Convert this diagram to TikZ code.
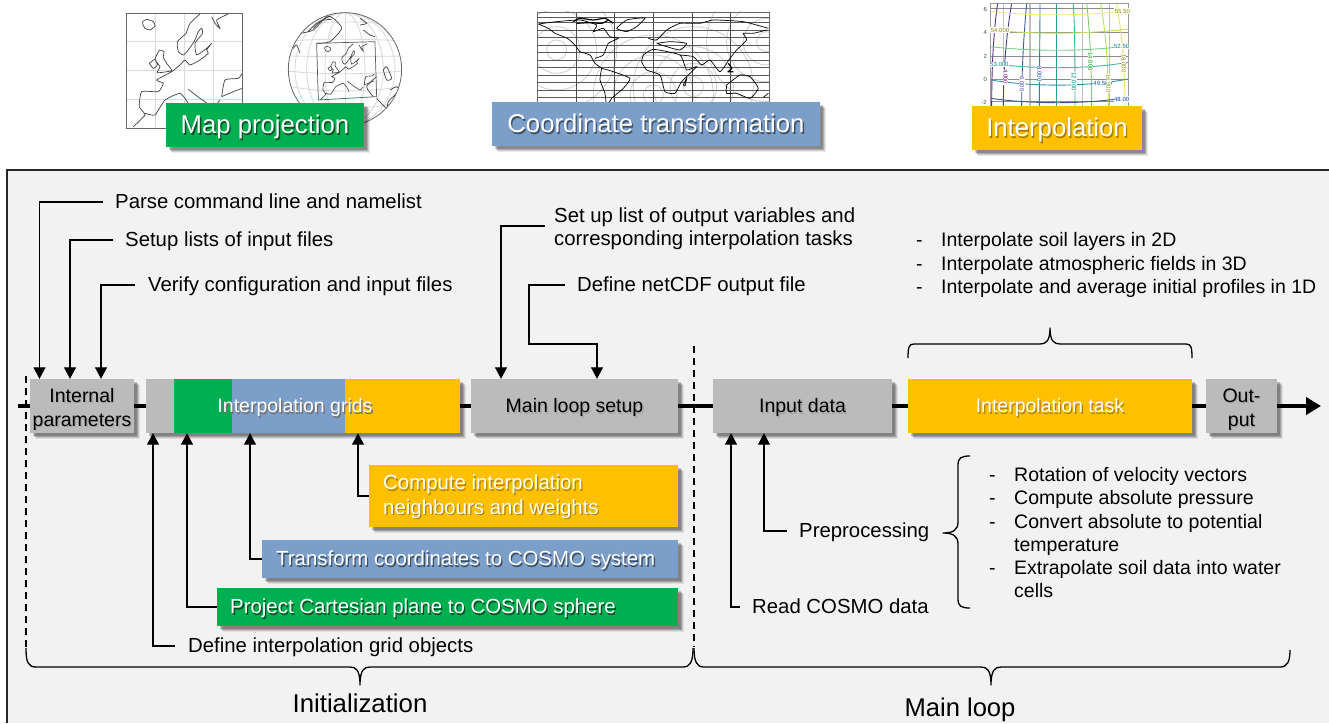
\documentclass[tikz,border=0pt]{standalone}
\usepackage{fontspec}
\setmainfont{Liberation Sans}
\usetikzlibrary{arrows.meta,shadows}
\definecolor{cgreen}{HTML}{00B050}
\definecolor{cblue}{HTML}{7C9FCA}
\definecolor{cyellow}{HTML}{FFC000}
\definecolor{cgray}{HTML}{BBBBBB}
\definecolor{panel}{HTML}{F2F2F2}
\newcommand\shtext[2]{\makebox[0pt][l]{\raisebox{-1.3pt}{\kern1.3pt\textcolor{#1}{#2}}}#2}
\newcommand\eurocoast[1]{
 \draw[#1] plot[smooth,tension=.3] coordinates {(128,65)(140,58)(160,65)(165,78)(150,90)(135,85)(128,72)(128,65)}
 plot[smooth,tension=.3] coordinates {(178,150)(192,155)(190,172)(200,190)(215,212)(172,218)(180,200)(165,178)(178,150)}
 plot[smooth,tension=.3] coordinates {(148,190)(165,178)(172,195)(160,205)(148,190)}
 plot[smooth,tension=.3] coordinates {(300,42)(270,70)(258,100)(232,125)(235,155)(250,165)(265,150)(285,120)(295,95)(305,85)(308,100)(285,130)(290,165)(320,145)(335,130)(320,150)(325,160)(300,180)(270,195)(255,180)(240,195)(215,215)(170,240)(190,250)(175,275)(125,275)(118,320)(135,345)(100,380)}
 plot[smooth,tension=.3] coordinates {(135,340)(165,345)(195,300)(240,280)(262,305)(275,330)}
 plot[smooth,tension=.3] coordinates {(265,268)(300,295)(340,320)(360,300)}
 plot[smooth,tension=.3] coordinates {(365,290)(375,240)(415,235)(425,222)}
 plot[smooth,tension=.3] coordinates {(365,290)(400,275)(427,265)}
 plot[smooth,tension=.3] coordinates {(335,50)(345,70)(360,85)(350,60)(385,42)};
}
\tikzset{
 softsh/.style={drop shadow={shadow xshift=6pt,shadow yshift=-6pt,opacity=.08,fill=black},
   drop shadow={shadow xshift=5pt,shadow yshift=-5pt,opacity=.12,fill=black},
   drop shadow={shadow xshift=4pt,shadow yshift=-4pt,opacity=.16,fill=black},
   drop shadow={shadow xshift=3pt,shadow yshift=-3pt,opacity=.2,fill=black}},
 cbox/.style={rectangle,inner sep=0pt,align=center,softsh,font=\fontsize{19.5}{23.5}\selectfont},
 lbl/.style={inner sep=0pt,anchor=west,align=left,text height=18pt,text depth=4.2pt,font=\fontsize{20.35}{23.6}\selectfont},
 boxt/.style={inner sep=0pt,anchor=west,align=left,text=white,text height=18pt,text depth=4.2pt,font=\fontsize{20.4}{24.5}\selectfont},
 itemtxt/.style={inner sep=0pt,anchor=west,text height=16.5pt,text depth=4pt,font=\fontsize{19.5}{22}\selectfont},
 toplab/.style={cbox,minimum height=44pt,text=white,text height=23pt,text depth=5.5pt,font=\fontsize{25.7}{30}\selectfont},
 conn/.style={line width=1.3pt,-{Triangle[length=11.5pt,width=12pt]}},
 mainl/.style={line width=4.6pt},
 dashl/.style={line width=1.1pt,dash pattern=on 7pt off 5pt},
 brc/.style={line width=1.3pt,line join=round},
 coast/.style={line width=.7pt,black!75},
 lightg/.style={line width=.9pt,black!14},
 tinyt/.style={inner sep=.5pt,fill=white,font=\fontsize{6}{6}\selectfont},
}
\begin{document}
\begin{tikzpicture}[x=1pt,y=-1pt]
\useasboundingbox (0,0) rectangle (1329,723);
\fill[white] (0,0) rectangle (1329,723);
% panel
\fill[panel] (7,170) rectangle (1329,723);
\draw[line width=1.4pt,black!85] (7,723) -- (7,170) -- (1329,170);
%
% Map 1
\begin{scope}[shift={(100,0)},scale=.3333]
 \begin{scope}
 \clip (78,40) rectangle (428,386);
 \foreach \v in {165,252,340} \draw[lightg] (\v,40) -- (\v,386);
 \foreach \v in {125,212,298} \draw[lightg] (78,\v) -- (428,\v);
 \eurocoast{coast}
 \end{scope}
 \draw[line width=.8pt,black!60] (78,40) rectangle (428,386);
\end{scope}
% Globe
\begin{scope}[shift={(100,0)},scale=.3333]
 \begin{scope}
 \clip (735,208) circle (170);
 \foreach \r in {60,115,150} \draw[lightg] (735,208) ellipse ({\r} and 170);
 \draw[lightg] (735,38) -- (735,378);
 \foreach \b in {-130,-85,-40,5,50,95,140}
   \draw[lightg] (565,{208+\b}) .. controls (650,{208+\b*1.2+10}) and (820,{208+\b*1.2+10}) .. (905,{208+\b});
 \begin{scope}[shift={(610,110)},scale=.5]
 \eurocoast{line width=.6pt,black!75}
 \end{scope}
 \draw[coast] plot[smooth,tension=.4] coordinates {(600,100)(640,90)(680,50)(700,55)(725,85)(690,125)(650,130)};
 \draw[coast] plot[smooth,tension=.4] coordinates {(625,95)(650,70)(690,48)};
 \draw[coast] plot[smooth,tension=.4] coordinates {(640,85)(665,62)(695,58)};
 \draw[coast] plot[smooth,tension=.4] coordinates {(580,145)(590,135)(600,160)};
 \draw[coast] plot[smooth,tension=.4] coordinates {(790,90)(810,105)(825,110)};
 \draw[coast] plot[smooth,tension=.4] coordinates {(780,55)(800,70)(780,75)};
 \draw[coast] plot[smooth,tension=.4] coordinates {(850,210)(860,200)(875,235)(860,240)(850,210)};
 \draw[coast] plot[smooth,tension=.4] coordinates {(830,295)(860,325)(865,305)(895,275)};
 \draw[coast] plot[smooth,tension=.4] coordinates {(870,270)(890,260)(900,270)};
 \draw[coast] plot[smooth,tension=.4] coordinates {(830,230)(800,260)(820,290)};
 \end{scope}
 \draw[line width=.7pt,black!65] (650,130) -- (825,125) -- (830,290) -- (655,300) -- cycle;
 \draw[line width=.8pt,black!60] (735,208) circle (170);
\end{scope}
% World map
\begin{scope}[shift={(480,0)},scale=.3333]
 \begin{scope}
 \clip (172,36) rectangle (868,310);
 \foreach \c/\d in {520/285,230/150,860/125,640/260}
  \foreach \r in {30,70,120,180} \draw[line width=.9pt,black!18] (\c,\d) circle (\r);
 \foreach \v in {52,68,90,113,135,158,180,202,225,248,270,292}
   \draw[line width=.7pt,black!65] (172,\v) -- (868,\v);
 \foreach \v in {288,404,520,636,752}
   \draw[line width=.8pt,black!70] (\v,36) -- (\v,310);
 \draw[line width=.7pt,black] plot[smooth,tension=.3] coordinates {(175,72)(205,85)(225,100)(262,115)(285,135)(300,155)(330,165)(345,190)(365,205)}
  plot[smooth,tension=.3] coordinates {(345,175)(370,165)(385,130)(415,115)(390,110)(370,85)(340,95)(350,75)(300,60)(230,65)(175,72)}
  plot[smooth,tension=.3] coordinates {(365,205)(400,215)(450,235)(430,265)(395,295)(380,320)(375,280)(360,240)(365,205)}
  plot[smooth,tension=.3] coordinates {(490,165)(520,148)(600,165)(620,210)(650,200)(605,245)(585,280)(555,275)(540,225)(500,210)(485,185)(490,165)}
  plot[smooth,tension=.3] coordinates {(505,115)(530,120)(560,90)(600,70)(660,70)(700,60)(790,65)(865,85)}
  plot[smooth,tension=.3] coordinates {(600,165)(640,170)(665,195)(690,180)(720,215)(750,175)(770,150)(800,120)(790,100)(820,100)(860,90)}
  plot[smooth,tension=.3] coordinates {(740,255)(780,225)(810,230)(835,265)(810,295)(770,280)(740,280)(740,255)}
  plot[smooth,tension=.3] coordinates {(610,255)(620,235)(615,258)(610,255)}
  plot[smooth,tension=.3] coordinates {(850,292)(865,280)}
  plot[smooth,tension=.3] coordinates {(530,130)(570,125)(620,130)(600,150)(560,140)(530,130)}
  plot[smooth,tension=.3] coordinates {(470,55)(495,55)(470,80)(440,95)(410,85)(440,60)(470,55)};
 \draw[line width=1.2pt,black] plot[smooth,tension=.4] coordinates {(280,65)(300,55)(340,60)(375,55)(400,70)}
  plot[smooth,tension=.4] coordinates {(290,70)(330,68)(365,70)(385,60)}
  plot[smooth,tension=.3] coordinates {(745,190)(755,205)(745,215)(760,215)};
 \end{scope}
 \draw[line width=.7pt,black!60] (172,36) rectangle (868,310);
\end{scope}
% Interpolation plot
\begin{scope}[shift={(960,0)},scale=.3333]
 \begin{scope}
 \clip (92,10) rectangle (505,325);
 \foreach \v in {130,210,290,368,448} \draw[line width=1.6pt,black!25] (\v,10) -- (\v,325);
 \foreach \v in {25,97,168,238,305} \draw[line width=.7pt,black!45] (92,\v) -- (505,\v);
 \foreach \s/\e/\m/\c in {113/95/100/5B2C83,155/130/140/4A3F8C,200/185/192/3E5C9A,240/238/240/3A7CA0,290/290/290/2E9C94,340/345/345/3CB48C,380/395/390/7FCF6A,422/445/438/BADF58,470/495/485/E8E560}
  {\definecolor{tmpc}{HTML}{\c}
  \draw[line width=.9pt,draw=tmpc] (\s,10) .. controls (\m,100) and (\e,200) .. (\e,325);}
 \foreach \a/\b/\c in {35/45/F2EB80,90/100/BFDD60,140/152/7BCF8A,190/205/4FB4A0,240/258/3A8FA5,295/310/3A5A95}
  {\definecolor{tmpc}{HTML}{\c}
  \draw[line width=.9pt,draw=tmpc] (92,\a) .. controls (220,{\b+3}) and (380,{\b+3}) .. (505,{\a-3});}
 \end{scope}
 \draw[line width=.7pt,black!40] (92,10) rectangle (505,325);
 \node[tinyt,black!70,fill=none] (tk6) at (76,28) {6};
 \node[tinyt,black!70,fill=none] (tk4) at (76,98) {4};
 \node[tinyt,black!70,fill=none] (tk2) at (76,168) {2};
 \node[tinyt,black!70,fill=none] (tk0) at (76,238) {0};
 \node[tinyt,black!70,fill=none] (tkm) at (72,308) {-2};
 \node[tinyt,text=olive] (c1) at (120,90) {54.000};
 \node[tinyt,text=teal] (c2) at (118,193) {53.000};
 \node[tinyt,text=teal] (c3) at (485,140) {52.50};
 \node[tinyt,text=teal!70!blue] (c4) at (428,250) {49.500};
 \node[tinyt,text=blue!50!teal] (c5) at (485,297) {48.00};
 \node[tinyt,text=olive] (c6) at (487,33) {55.50};
 \node[tinyt,rotate=-90,text=blue!50!gray] (c7) at (186,252) {6.000};
 \node[tinyt,rotate=-90,text=blue!40!teal] (c8) at (238,222) {8.000};
 \node[tinyt,rotate=-90,text=teal] (c9) at (342,245) {12.000};
 \node[tinyt,rotate=-90,text=green!60!black] (c10) at (391,185) {14.000};
 \node[tinyt,rotate=-90,text=violet] (c11) at (136,230) {4.000};
 \node[tinyt,rotate=-90,text=olive] (c12) at (491,190) {18.000};
 \node[tinyt,rotate=-90,text=olive!70!green] (c13) at (445,250) {16.000};
\end{scope}
% top labels
\node[toplab,fill=cgreen,minimum width=198pt] (mp) at (265,125) {\shtext{black!55!cgreen}{Map projection}};
\node[toplab,fill=cblue,minimum width=328pt] (ct) at (656,124) {\shtext{black!50!cblue}{Coordinate transformation}};
\node[toplab,fill=cyellow,minimum width=170pt] (ip2) at (1057,128) {\shtext{black!35!cyellow}{Interpolation}};
% main boxes
\coordinate (start) at (18,406);
\coordinate (end) at (1321,406);
\node[cbox,fill=cgray,minimum width=104pt,minimum height=54pt] (ip) at (82,406) {\rule{0pt}{22pt}\shtext{black!35}{Internal}\\[.5pt]\shtext{black!35}{parameters}};
\node[cbox,fill=cgray,minimum width=28pt,minimum height=54pt] (g1) at (160,406) {};
\node[cbox,fill=cgreen,minimum width=58pt,minimum height=54pt] (g2) at (203,406) {};
\node[cbox,fill=cblue,minimum width=113pt,minimum height=54pt] (g3) at (288.5,406) {};
\node[cbox,fill=cyellow,minimum width=115pt,minimum height=54pt] (g4) at (402.5,406) {};
\node[inner sep=0pt,text=white,text height=17.5pt,text depth=4pt,font=\fontsize{19.5}{24}\selectfont] (gt) at (295,406) {\shtext{black!55}{Interpolation grids}};
\node[cbox,fill=cgray,minimum width=207pt,minimum height=54pt,text height=17.5pt,text depth=4pt] (ml) at (574.5,406) {\shtext{black!35}{Main loop setup}};
\node[cbox,fill=cgray,minimum width=179pt,minimum height=54pt,text height=17.5pt,text depth=4pt] (idt) at (802.5,406) {\shtext{black!35}{Input data}};
\node[cbox,fill=cyellow,minimum width=284pt,minimum height=54pt,text=white,text height=17.5pt,text depth=4pt] (it) at (1050,406) {\shtext{black!30!cyellow}{Interpolation task}};
\node[cbox,fill=cgray,minimum width=71pt,minimum height=54pt] (op) at (1241.5,406) {\rule{0pt}{22pt}\shtext{black!35}{Out-}\\[.5pt]\shtext{black!35}{put}};
% main line
\draw[mainl] (start) -- (ip.west);
\draw[mainl] (ip.east) -- (g1.west);
\draw[mainl] (g4.east) -- (ml.west);
\draw[mainl] (ml.east) -- (idt.west);
\draw[mainl] (idt.east) -- (it.west);
\draw[mainl] (it.east) -- (op.west);
\draw[mainl,-{Triangle[length=15pt,width=17pt]}] (op.east) -- (end);
% dashes
\coordinate (d1t) at (26,376);
\coordinate (d1b) at (26,647);
\coordinate (d2t) at (694,346);
\coordinate (d2b) at (694,647);
\draw[dashl] (d1t) -- (d1b);
\draw[dashl] (d2t) -- (d2b);
% text with connectors (top left)
\node[lbl] (t1) at (115,202) {Parse command line and namelist};
\node[lbl] (t2) at (125,240) {Setup lists of input files};
\node[lbl] (t3) at (148,285) {Verify configuration and input files};
\draw[conn] ([xshift=-12pt]t1.west) -| ([xshift=-42.5pt]ip.north);
\draw[conn] ([xshift=-12pt]t2.west) -| ([xshift=-12pt]ip.north);
\draw[conn] ([xshift=-13pt]t3.west) -| ([xshift=19pt]ip.north);
% lower boxes
\node[cbox,fill=cyellow,minimum width=309pt,minimum height=62pt,text=white,align=left] (bcmp) at (523.5,496) {};
\node[boxt] (bcmpt) at (383,507.5) {\shtext{black!30!cyellow}{Compute interpolation}\\\shtext{black!30!cyellow}{neighbours and weights}};
\node[cbox,fill=cblue,minimum width=416pt,minimum height=38pt] (btr) at (470,559) {};
\node[boxt] (btrt) at (276,559) {\shtext{black!50!cblue}{Transform coordinates to COSMO system}};
\node[cbox,fill=cgreen,minimum width=461pt,minimum height=38pt] (bpr) at (447.5,607) {};
\node[boxt] (bprt) at (230,607) {\shtext{black!55!cgreen}{Project Cartesian plane to COSMO sphere}};
\node[lbl] (tdef) at (188,646) {Define interpolation grid objects};
\draw[conn] ([xshift=-13pt]tdef.west) -| ([xshift=-7pt]g1.south);
\draw[conn] (bpr.west) -| ([xshift=-16pt]g2.south);
\draw[conn] (btr.west) -| ([xshift=-38.5pt]g3.south);
\draw[conn] (bcmp.west) -| ([xshift=-44.5pt]g4.south);
% main loop setup
\node[lbl] (ts1) at (554,239) {Set up list of output variables and\\corresponding interpolation tasks};
\node[lbl] (ts2) at (577,285) {Define netCDF output file};
\coordinate (ts1e) at (545,226);
\coordinate (bend) at (529,344);
\draw[conn] (ts1e) -| ([xshift=-73.5pt]ml.north);
\draw[conn] ([xshift=-12pt]ts2.west) -| (bend) -| ([xshift=22.5pt]ml.north);
% input side
\node[lbl] (tpre) at (799,531) {Preprocessing};
\node[lbl] (trd) at (752,607) {Read COSMO data};
\draw[conn] ([xshift=-12pt]tpre.west) -| ([xshift=-38.5pt]idt.south);
\draw[conn] ([xshift=-12pt]trd.west) -| ([xshift=-71.5pt]idt.south);
% left brace of list
\coordinate (lb1) at (970,456);
\coordinate (lb2) at (970,608);
\coordinate (lbt) at (943,533);
\draw[brc] (lb1) .. controls (961,456) and (958,458) .. (958,465) -- (958,522) .. controls (958,530) and (953,533) .. (lbt) .. controls (953,533) and (958,536) .. (958,544) -- (958,599) .. controls (958,606) and (961,608) .. (lb2);
% preprocessing list
\foreach \y/\n/\s in {475/a/Rotation of velocity vectors,498/b/Compute absolute pressure,522/c/Convert absolute to potential,545/d/temperature,568/e/Extrapolate soil data into water,591/f/cells}
  \node[itemtxt] (pl\n) at (1014,\y) {\s};
\foreach \y/\n in {475/a,498/b,522/c,568/e}
  \node[itemtxt] (pd\n) at (989,\y) {-};
% interpolation list
\foreach \y/\n/\s in {240/a/Interpolate soil layers in 2D,264/b/Interpolate atmospheric fields in 3D,287/c/Interpolate and average initial profiles in 1D}
 {\node[itemtxt] (il\n) at (941,\y) {\s};
  \node[itemtxt] (id\n) at (916,\y) {-};}
% upper brace
\coordinate (ub1) at (908,358);
\coordinate (ub2) at (1192,358);
\coordinate (ubt) at (1050,328);
\draw[brc] (ub1) .. controls (908,347) and (909,344) .. (914,344) -- (1040,344) .. controls (1046,344) and (1050,341) .. (ubt) .. controls (1050,341) and (1054,344) .. (1060,344) -- (1186,344) .. controls (1191,344) and (1192,347) .. (ub2);
% bottom braces
\coordinate (b1a) at (26,648);
\coordinate (b1b) at (693,648);
\coordinate (b1t) at (360,685);
\coordinate (b2a) at (694,648);
\coordinate (b2b) at (1290,650);
\coordinate (b2t) at (991,685);
\draw[brc] (b1a) .. controls (26,662) and (28,667) .. (36,667) -- (350,667) .. controls (356,667) and (360,670) .. (b1t) .. controls (360,670) and (364,667) .. (370,667) -- (683,667) .. controls (690,667) and (693,662) .. (b1b);
\draw[brc] (b2a) .. controls (694,662) and (697,667) .. (704,667) -- (981,667) .. controls (987,667) and (991,670) .. (b2t) .. controls (991,670) and (995,667) .. (1001,667) -- (1280,667) .. controls (1287,667) and (1290,662) .. (b2b);
\node[inner sep=0pt,font=\fontsize{25.8}{28}\selectfont] (ini) at (360,703) {Initialization};
\node[inner sep=0pt,font=\fontsize{25.6}{28}\selectfont] (mlp) at (960,709.5) {Main loop};
\end{tikzpicture}
\end{document}
